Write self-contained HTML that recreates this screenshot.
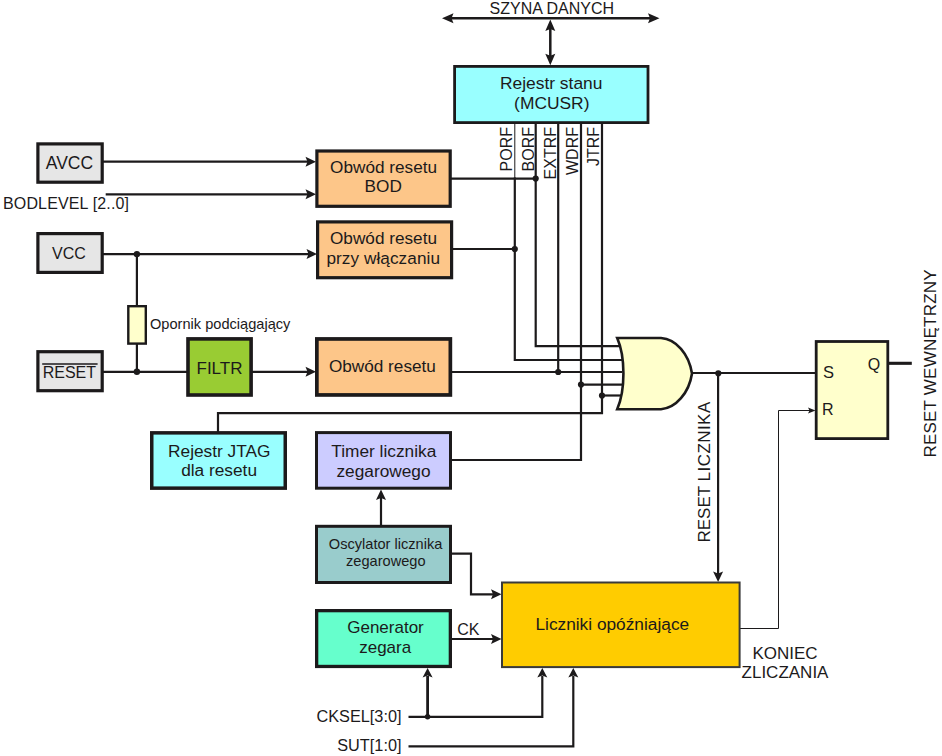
<!DOCTYPE html>
<html lang="pl"><head><meta charset="utf-8"><title>Schemat blokowy układu resetu</title>
<style>
html,body{margin:0;padding:0;background:#fff;}
svg{display:block;font-family:"Liberation Sans",sans-serif;fill:#1c1a1b;}
</style></head>
<body>
<svg width="942" height="756" viewBox="0 0 942 756">
<rect x="0" y="0" width="942" height="756" fill="#ffffff"/>
<path d="M446 18.3 L656 18.3" fill="none" stroke="#1c1a1b" stroke-width="2.5" />
<polygon points="442.00,18.30 453.50,13.30 451.50,18.30 453.50,23.30" fill="#1c1a1b"/>
<polygon points="659.50,18.30 648.00,23.30 650.00,18.30 648.00,13.30" fill="#1c1a1b"/>
<path d="M550.3 24 L550.3 60" fill="none" stroke="#1c1a1b" stroke-width="2.5" />
<polygon points="550.30,19.50 555.30,31.00 550.30,29.00 545.30,31.00" fill="#1c1a1b"/>
<polygon points="550.30,65.20 545.30,53.70 550.30,55.70 555.30,53.70" fill="#1c1a1b"/>
<path d="M103 161.7 L308 161.7" fill="none" stroke="#1c1a1b" stroke-width="2.2" />
<polygon points="316.00,161.70 305.50,166.70 307.50,161.70 305.50,156.70" fill="#1c1a1b"/>
<path d="M105.7 194.3 L308 194.3" fill="none" stroke="#1c1a1b" stroke-width="2.2" />
<polygon points="316.00,194.30 305.50,199.30 307.50,194.30 305.50,189.30" fill="#1c1a1b"/>
<path d="M103 254.1 L309 254.1" fill="none" stroke="#1c1a1b" stroke-width="2.2" />
<polygon points="317.00,254.10 306.50,259.10 308.50,254.10 306.50,249.10" fill="#1c1a1b"/>
<path d="M136.9 253.9 L136.9 371.8" fill="none" stroke="#1c1a1b" stroke-width="2.2" />
<path d="M103 371.8 L187 371.8" fill="none" stroke="#1c1a1b" stroke-width="2.2" />
<path d="M252 371.8 L308 371.8" fill="none" stroke="#1c1a1b" stroke-width="2.2" />
<polygon points="316.00,371.80 305.50,376.80 307.50,371.80 305.50,366.80" fill="#1c1a1b"/>
<circle cx="136.9" cy="254.1" r="3.2" fill="#1c1a1b"/>
<circle cx="136.9" cy="371.8" r="3.2" fill="#1c1a1b"/>
<path d="M451 178.6 L535.7 178.6" fill="none" stroke="#1c1a1b" stroke-width="2.2" />
<path d="M452 249 L514.8 249" fill="none" stroke="#1c1a1b" stroke-width="2.2" />
<path d="M451 372.0 L622 372.0" fill="none" stroke="#1c1a1b" stroke-width="2.2" />
<path d="M514.8 123 L514.8 179" fill="none" stroke="#1c1a1b" stroke-width="1.0" />
<path d="M514.8 177.5 L514.8 360.0 L622 360.0" fill="none" stroke="#1c1a1b" stroke-width="2.2" />
<path d="M535.7 123 L535.7 346.1 L620 346.1" fill="none" stroke="#1c1a1b" stroke-width="2.2" />
<path d="M558.2 123 L558.2 372.0" fill="none" stroke="#1c1a1b" stroke-width="2.2" />
<path d="M581.0 123 L581.0 384.6" fill="none" stroke="#1c1a1b" stroke-width="2.2" />
<path d="M602.0 123 L602.0 395.5" fill="none" stroke="#1c1a1b" stroke-width="2.2" />
<path d="M581.0 384.6 L623 384.6" fill="none" stroke="#1c1a1b" stroke-width="2.2" />
<path d="M602.0 395.5 L621 395.5" fill="none" stroke="#1c1a1b" stroke-width="2.2" />
<path d="M218 432 L218 413.2 L602.0 413.2 L602.0 395.5" fill="none" stroke="#1c1a1b" stroke-width="2.2" />
<path d="M451 460 L581.0 460 L581.0 384.6" fill="none" stroke="#1c1a1b" stroke-width="2.2" />
<circle cx="535.7" cy="178.6" r="3.1" fill="#1c1a1b"/>
<circle cx="514.8" cy="249" r="3.1" fill="#1c1a1b"/>
<circle cx="558.2" cy="372.0" r="3.1" fill="#1c1a1b"/>
<circle cx="581.0" cy="384.6" r="3.1" fill="#1c1a1b"/>
<circle cx="602.0" cy="395.5" r="3.1" fill="#1c1a1b"/>
<path d="M690 373 L816 373" fill="none" stroke="#1c1a1b" stroke-width="2.2" />
<circle cx="718.3" cy="373.3" r="3.1" fill="#1c1a1b"/>
<path d="M718.1 373 L718.1 574" fill="none" stroke="#1c1a1b" stroke-width="2.2" />
<polygon points="718.10,582.00 713.10,571.50 718.10,573.50 723.10,571.50" fill="#1c1a1b"/>
<path d="M740 628.5 L778.5 628.5 L778.5 410.5 L810 410.5" fill="none" stroke="#1c1a1b" stroke-width="1.0" />
<polygon points="815.50,410.50 808.00,413.50 809.50,410.50 808.00,407.50" fill="#1c1a1b"/>
<path d="M888 363.3 L911.8 363.3" fill="none" stroke="#1c1a1b" stroke-width="3.1" />
<path d="M381 525 L381 498" fill="none" stroke="#1c1a1b" stroke-width="2.2" />
<polygon points="381.00,489.50 386.00,500.00 381.00,498.00 376.00,500.00" fill="#1c1a1b"/>
<path d="M451 553.7 L471 553.7 L471 594.3 L494 594.3" fill="none" stroke="#1c1a1b" stroke-width="2.2" />
<polygon points="501.50,594.30 491.00,599.30 493.00,594.30 491.00,589.30" fill="#1c1a1b"/>
<path d="M451 639 L494 639" fill="none" stroke="#1c1a1b" stroke-width="2.2" />
<polygon points="501.50,639.00 491.00,644.00 493.00,639.00 491.00,634.00" fill="#1c1a1b"/>
<path d="M408.5 716.8 L542.3 716.8 L542.3 676" fill="none" stroke="#1c1a1b" stroke-width="2.2" />
<polygon points="542.30,668.00 547.30,677.50 542.30,675.50 537.30,677.50" fill="#1c1a1b"/>
<path d="M427.6 716.8 L427.6 676" fill="none" stroke="#1c1a1b" stroke-width="2.8" />
<polygon points="427.60,668.00 432.60,677.50 427.60,675.50 422.60,677.50" fill="#1c1a1b"/>
<circle cx="427.6" cy="716.8" r="2.7" fill="#1c1a1b"/>
<path d="M408.5 746.4 L573.3 746.4 L573.3 676" fill="none" stroke="#1c1a1b" stroke-width="2.2" />
<polygon points="573.30,668.00 578.30,677.50 573.30,675.50 568.30,677.50" fill="#1c1a1b"/>
<rect x="37.90" y="143.90" width="64.30" height="38.30" fill="#e6e6e6" stroke="#1c1a1b" stroke-width="3.2"/>
<rect x="37.90" y="233.60" width="64.30" height="38.80" fill="#e6e6e6" stroke="#1c1a1b" stroke-width="3.2"/>
<rect x="37.90" y="351.70" width="64.30" height="39.00" fill="#e6e6e6" stroke="#1c1a1b" stroke-width="3.2"/>
<rect x="128.30" y="306.20" width="17.50" height="37.40" fill="#ffffcc" stroke="#1c1a1b" stroke-width="2.4"/>
<rect x="316.90" y="151.00" width="133.30" height="55.30" fill="#fdc689" stroke="#1c1a1b" stroke-width="3.2"/>
<rect x="317.60" y="221.90" width="134.00" height="55.80" fill="#fdc689" stroke="#1c1a1b" stroke-width="3.2"/>
<rect x="316.85" y="338.95" width="133.50" height="56.00" fill="#fdc689" stroke="#1c1a1b" stroke-width="3.7"/>
<rect x="188.00" y="338.90" width="63.10" height="56.10" fill="#99cc33" stroke="#1c1a1b" stroke-width="3.6"/>
<rect x="151.75" y="432.85" width="133.50" height="55.30" fill="#99ffff" stroke="#1c1a1b" stroke-width="3.5"/>
<rect x="316.50" y="432.60" width="134.00" height="55.60" fill="#ccccff" stroke="#1c1a1b" stroke-width="3.0"/>
<rect x="316.50" y="526.30" width="134.00" height="56.20" fill="#99cccc" stroke="#1c1a1b" stroke-width="3.0"/>
<rect x="316.65" y="610.65" width="133.70" height="55.80" fill="#66ffcc" stroke="#1c1a1b" stroke-width="3.3"/>
<rect x="454.60" y="66.40" width="193.40" height="56.20" fill="#99ffff" stroke="#1c1a1b" stroke-width="2.8"/>
<rect x="502.00" y="582.50" width="237.60" height="84.60" fill="#ffcc00" stroke="#3a3a3a" stroke-width="2.0"/>
<rect x="816.20" y="341.50" width="71.60" height="97.10" fill="#ffffcc" stroke="#1c1a1b" stroke-width="2.8"/>
<path d="M617.2 338 L661 338 C676 339 689 354 692 373.5 C689 393 676 408 661 409.3 L617.2 409.3 C625.5 390 625.5 357 617.2 338 Z" fill="#ffffcc" stroke="#1c1a1b" stroke-width="2.6" stroke-linejoin="miter"/>
<text x="551.8" y="13.8" font-size="16" text-anchor="middle" >SZYNA DANYCH</text>
<text x="551.2" y="89.2" font-size="17.4" text-anchor="middle" >Rejestr stanu</text>
<text x="551.8" y="108.8" font-size="17.4" text-anchor="middle" >(MCUSR)</text>
<text x="69.5" y="169" font-size="17.5" text-anchor="middle" >AVCC</text>
<text x="69.0" y="258.7" font-size="16" text-anchor="middle" >VCC</text>
<text x="69.4" y="377.8" font-size="16" text-anchor="middle" >RESET</text>
<path d="M42.2 364 L97.6 364" stroke="#1c1a1b" stroke-width="1.3"/>
<text x="3" y="209.2" font-size="16" text-anchor="start" textLength="126" lengthAdjust="spacing" >BODLEVEL [2..0]</text>
<text x="150" y="329" font-size="14.6" text-anchor="start" >Opornik podciągający</text>
<text x="219.5" y="373.5" font-size="17" text-anchor="middle" >FILTR</text>
<text x="383.6" y="172.8" font-size="17.2" text-anchor="middle" >Obwód resetu</text>
<text x="383.2" y="191.8" font-size="17.2" text-anchor="middle" >BOD</text>
<text x="383.5" y="244.2" font-size="17.2" text-anchor="middle" >Obwód resetu</text>
<text x="383.2" y="264.2" font-size="17.2" text-anchor="middle" textLength="113.5" lengthAdjust="spacing" >przy włączaniu</text>
<text x="382.4" y="371.6" font-size="17.2" text-anchor="middle" >Obwód resetu</text>
<text x="219.3" y="457.1" font-size="17.3" text-anchor="middle" >Rejestr JTAG</text>
<text x="219.1" y="476.4" font-size="17.3" text-anchor="middle" >dla resetu</text>
<text x="383.8" y="456.6" font-size="17.3" text-anchor="middle" >Timer licznika</text>
<text x="383.5" y="476.6" font-size="17.3" text-anchor="middle" >zegarowego</text>
<text x="385.6" y="549" font-size="14.6" text-anchor="middle" >Oscylator licznika</text>
<text x="385.8" y="566" font-size="14.6" text-anchor="middle" >zegarowego</text>
<text x="385.5" y="633" font-size="17" text-anchor="middle" >Generator</text>
<text x="385.2" y="653" font-size="17" text-anchor="middle" >zegara</text>
<text x="468.3" y="635.2" font-size="16" text-anchor="middle" >CK</text>
<text x="612.3" y="629.5" font-size="17.3" text-anchor="middle" >Liczniki opóźniające</text>
<text x="785" y="659" font-size="17" text-anchor="middle" >KONIEC</text>
<text x="785" y="678" font-size="17" text-anchor="middle" >ZLICZANIA</text>
<text x="828.4" y="377.5" font-size="16.5" text-anchor="middle" >S</text>
<text x="827.8" y="414.7" font-size="16" text-anchor="middle" >R</text>
<text x="874" y="369.7" font-size="16" text-anchor="middle" >Q</text>
<text x="401.5" y="722.3" font-size="16.3" text-anchor="end" >CKSEL[3:0]</text>
<text x="401.5" y="751.3" font-size="16.3" text-anchor="end" >SUT[1:0]</text>
<text x="512.4" y="127" font-size="16" text-anchor="end" transform="rotate(-90 512.4 127)" >PORF</text>
<text x="533.7" y="127" font-size="16" text-anchor="end" transform="rotate(-90 533.7 127)" >BORF</text>
<text x="555.8" y="127" font-size="16" text-anchor="end" transform="rotate(-90 555.8 127)" >EXTRF</text>
<text x="577.8" y="127" font-size="16" text-anchor="end" transform="rotate(-90 577.8 127)" >WDRF</text>
<text x="599.3" y="127" font-size="16" text-anchor="end" transform="rotate(-90 599.3 127)" >JTRF</text>
<text x="710.2" y="542.5" font-size="17" text-anchor="start" transform="rotate(-90 710.2 542.5)" >RESET <tspan letter-spacing="0.45">LICZNIKA</tspan></text>
<text x="936" y="457.6" font-size="17" text-anchor="start" transform="rotate(-90 936 457.6)" textLength="188.2" lengthAdjust="spacing" >RESET WEWNĘTRZNY</text>
</svg>
</body></html>
